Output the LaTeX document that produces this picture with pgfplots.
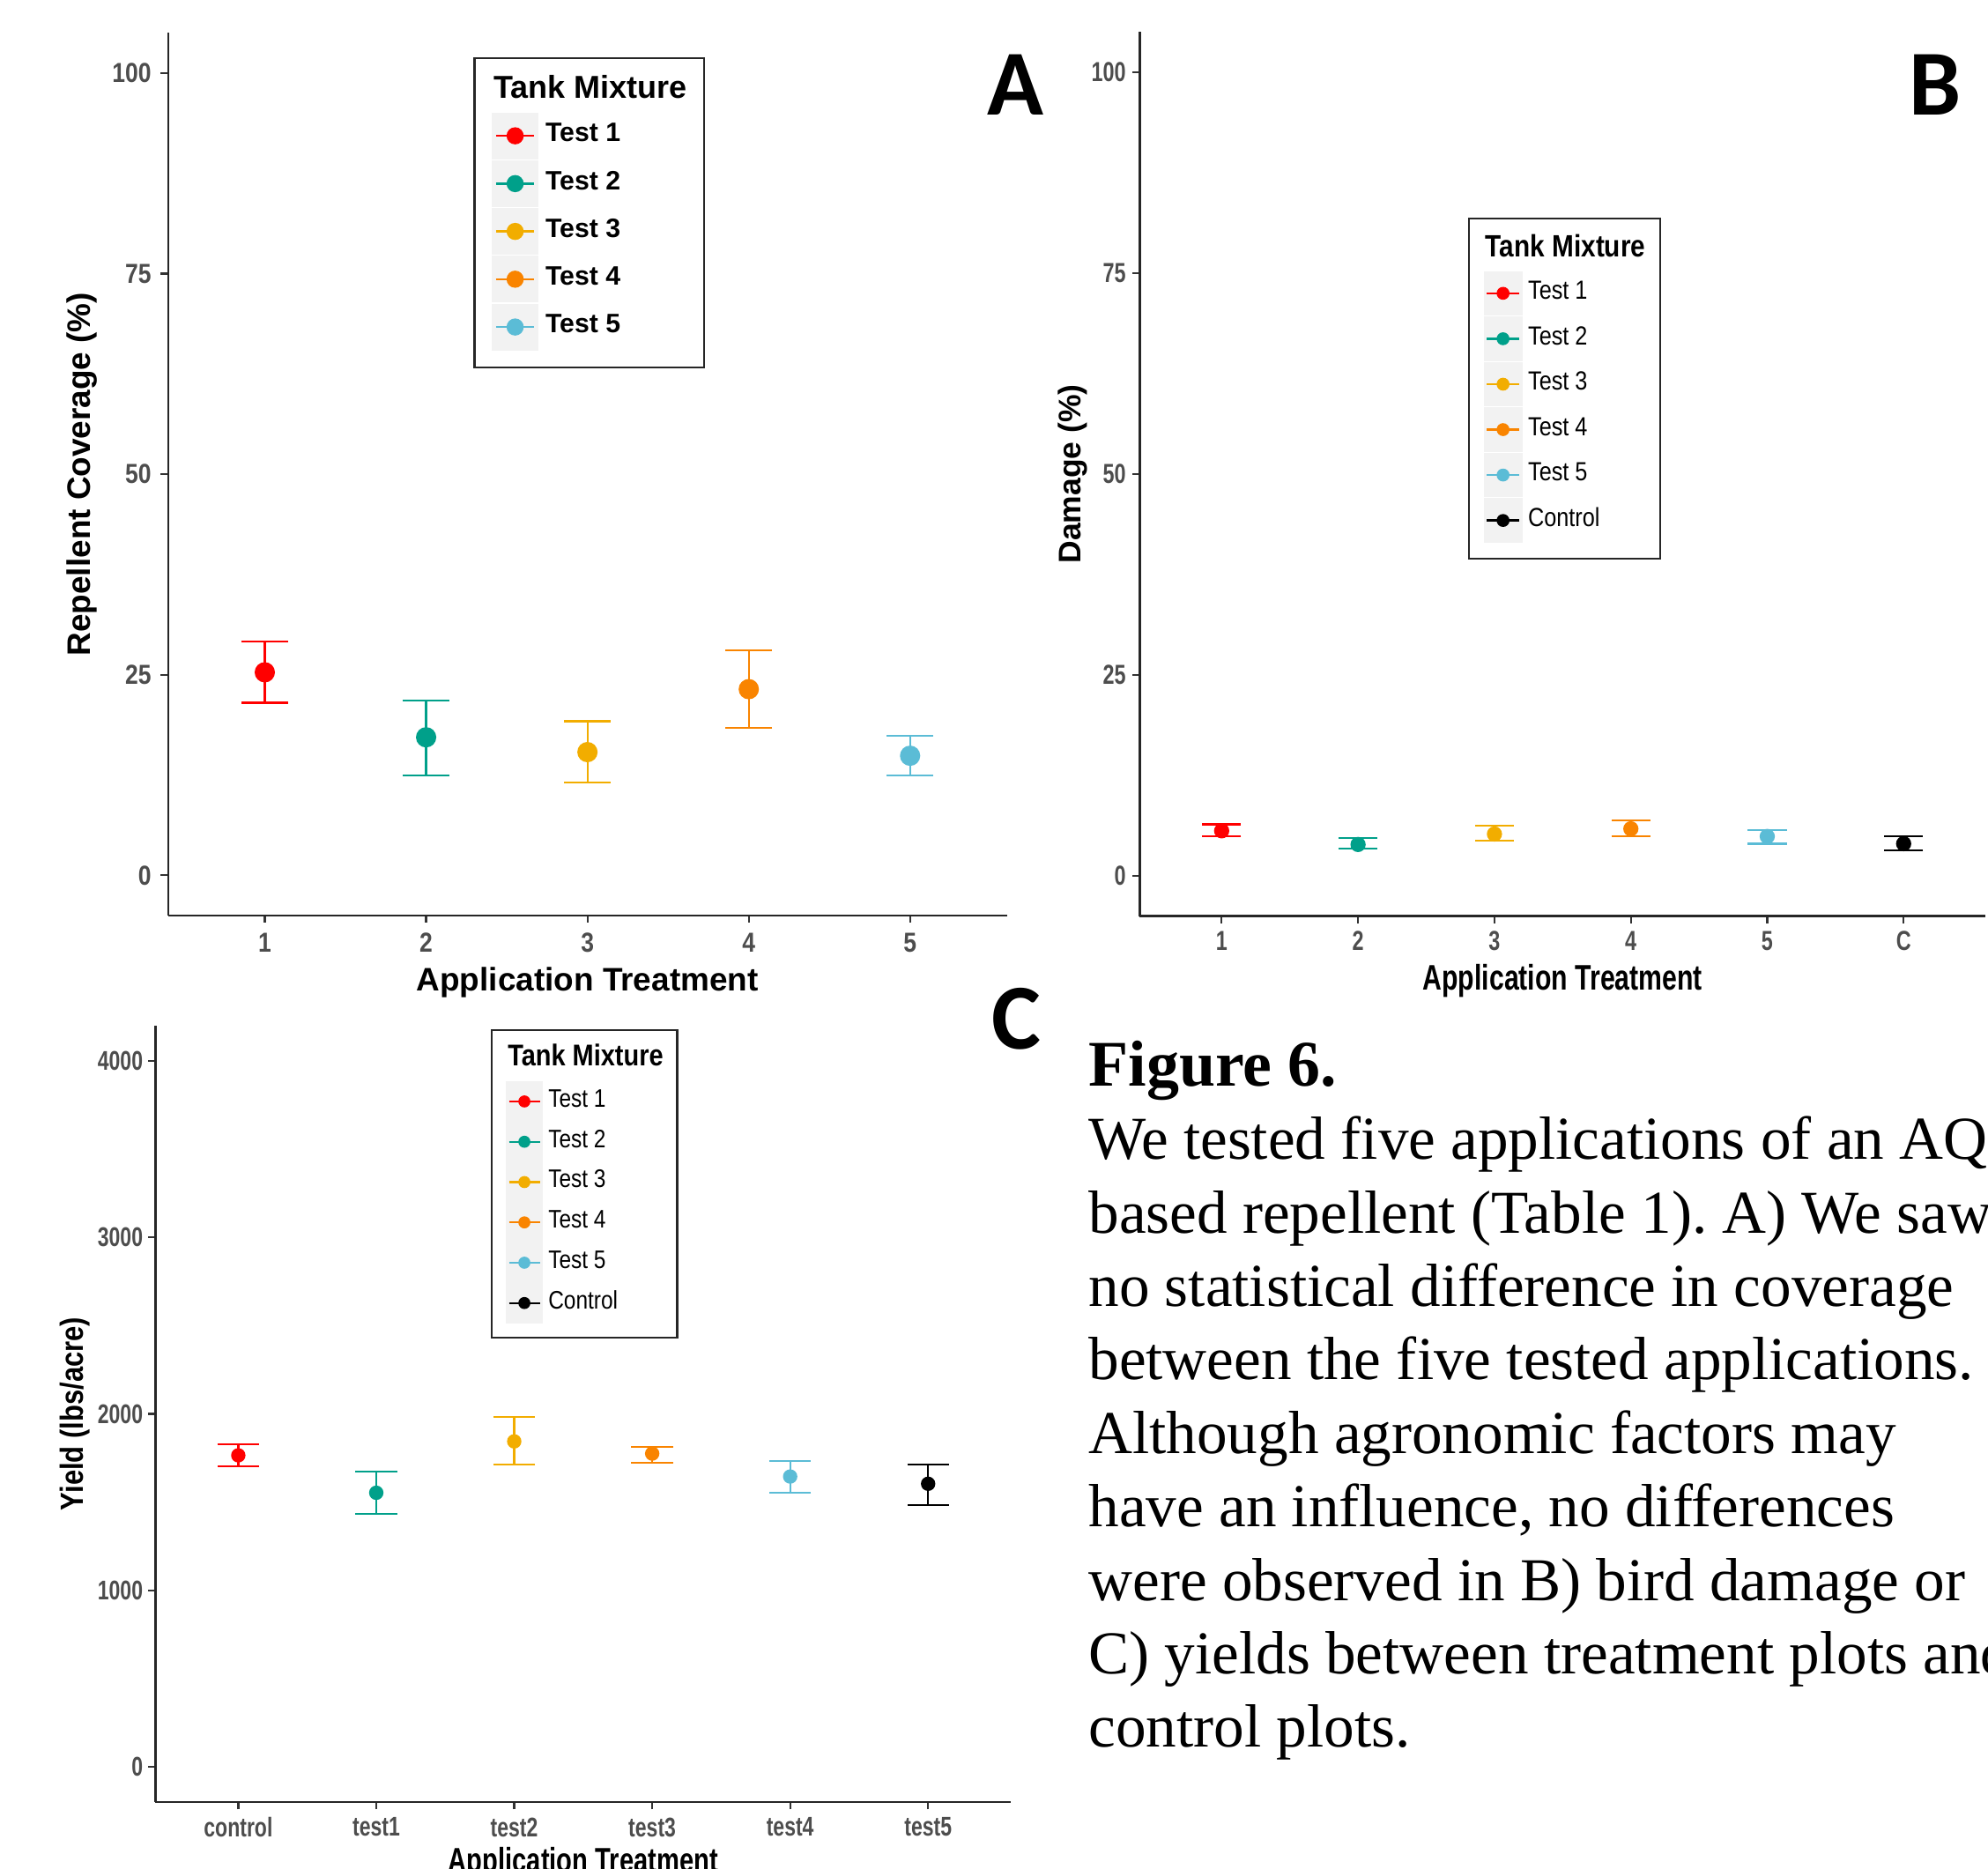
\documentclass[border=0pt]{standalone}
\usepackage{fontspec}
\setmainfont{Liberation Sans}
\newfontfamily\nar[FakeStretch=0.85]{Liberation Sans}
\newfontfamily\narr[FakeStretch=0.75]{Liberation Sans}
\newfontfamily\capfont{Liberation Serif}
\newfontfamily\letterfont{Carlito}
\usepackage{pgfplots}
\pgfplotsset{compat=1.18}
\frenchspacing

\definecolor{tred}{HTML}{FF0000}
\definecolor{tteal}{HTML}{00A08A}
\definecolor{tyel}{HTML}{F2AD00}
\definecolor{torg}{HTML}{F98400}
\definecolor{tblue}{HTML}{5BBCD6}
\definecolor{keybg}{HTML}{F2F2F2}
\definecolor{tickgrey}{HTML}{4D4D4D}

\pgfplotsset{
  ggpanel/.style={
    scale only axis, anchor=south west,
    axis lines=left, axis line style={-, black!85, line width=0.45pt},
    tick align=outside, major tick length=1.7pt,
    tick style={black!80, line width=0.45pt},
    every tick label/.append style={text=tickgrey, inner sep=0pt},
    /pgf/number format/assume math mode=true,
    /pgf/number format/1000 sep={},
    error bars/y dir=both, error bars/y explicit,
    error bars/error mark=-,
    error bars/error bar style={line width=0.45pt},
    legend cell align=left,
    ylabel style={anchor=center},
    xlabel style={anchor=base},
  },
}

\begin{document}
\begin{tikzpicture}
\begin{scope}
\clip (0pt,0pt) rectangle (470.4pt,442.2pt);

% ---------- A: repellent coverage ----------
\begin{axis}[ggpanel,
  at={(39.75pt,225.6pt)}, width=198.5pt, height=208.8pt,
  xmin=0.4, xmax=5.6, ymin=-5, ymax=105,
  xtick={1,2,3,4,5}, ytick={0,25,50,75,100},
  tick label style={font=\nar\bfseries\fontsize{6.5}{7}\selectfont},
  yticklabel style={anchor=east, xshift=-2.05pt},
  xticklabel style={anchor=north, yshift=-2.3pt},
  xlabel={Application Treatment}, ylabel={Repellent Coverage (\%)},
  label style={font=\bfseries\fontsize{7.7}{8}\selectfont},
  xlabel style={at={(axis description cs:0.5,-0.0852)}},
  ylabel style={at={(axis description cs:-0.102,0.5)}},
  error bars/error mark options={rotate=90, line width=0.45pt, mark size=5.5pt},
  legend style={at={(0.3642,0.9724)}, anchor=north west, draw=black!85, line width=0.45pt,
    inner xsep=4.1pt, inner ysep=4.0pt, row sep=0.26pt, column sep=1.65pt,
    nodes={inner sep=0pt},
    font=\bfseries\fontsize{6.3}{7}\selectfont},
  legend image code/.code={
    \fill[keybg] (0pt,-5.3pt) rectangle (10.6pt,5.3pt);
    \draw[#1, line width=0.5pt] (0.75pt,0pt) -- (9.85pt,0pt);
    \fill[#1] (5.3pt,0pt) circle (1.8pt);},
]
\addlegendimage{legend image code/.code={\path[draw=none, fill=none] (0pt,0pt) -- (0pt,-5.1pt);}}
\addlegendentry{\hspace{-12.25pt}\fontsize{7.5}{8}\selectfont\textbf{Tank Mixture}}
\addplot[tred, only marks, mark=*, mark size=2.2pt] coordinates {(1,25.3) += (0,3.8) -= (0,3.8)};
\addlegendentry{Test 1}
\addplot[tteal, only marks, mark=*, mark size=2.2pt] coordinates {(2,17.2) += (0,4.6) -= (0,4.8)};
\addlegendentry{Test 2}
\addplot[tyel, only marks, mark=*, mark size=2.2pt] coordinates {(3,15.35) += (0,3.85) -= (0,3.75)};
\addlegendentry{Test 3}
\addplot[torg, only marks, mark=*, mark size=2.2pt] coordinates {(4,23.2) += (0,4.85) -= (0,4.8)};
\addlegendentry{Test 4}
\addplot[tblue, only marks, mark=*, mark size=2.2pt] coordinates {(5,14.9) += (0,2.5) -= (0,2.5)};
\addlegendentry{Test 5}
\end{axis}

% ---------- B: damage ----------
\begin{axis}[ggpanel,
  at={(269.7pt,225.45pt)}, width=200.1pt, height=209.2pt,
  xmin=0.4, xmax=6.6, ymin=-5, ymax=105,
  xtick={1,2,3,4,5,6}, xticklabels={1,2,3,4,5,C}, ytick={0,25,50,75,100},
  tick label style={font=\narr\bfseries\fontsize{6.5}{7}\selectfont},
  yticklabel style={anchor=east, xshift=-1.4pt},
  xticklabel style={anchor=north, yshift=-1.75pt},
  xlabel={Application Treatment}, ylabel={Damage (\%)},
  xlabel style={font=\narr\bfseries\fontsize{8.4}{9}\selectfont, at={(axis description cs:0.5,-0.0836)}},
  ylabel style={font=\bfseries\fontsize{7.4}{8}\selectfont, at={(axis description cs:-0.0795,0.5)}},
  error bars/error mark options={rotate=90, line width=0.45pt, mark size=4.6pt},
  legend style={at={(0.3883,0.790)}, anchor=north west, draw=black!85, line width=0.45pt,
    inner xsep=3.45pt, inner ysep=3.75pt, row sep=0.2pt, column sep=1.35pt,
    nodes={inner sep=0pt},
    font=\nar\fontsize{6.2}{7}\selectfont},
  legend image code/.code={
    \fill[keybg] (0pt,-5.05pt) rectangle (8.7pt,5.05pt);
    \draw[#1, line width=0.5pt] (0.5pt,0pt) -- (8.2pt,0pt);
    \fill[#1] (4.35pt,0pt) circle (1.3pt);},
]
\addlegendimage{legend image code/.code={\path[draw=none, fill=none] (0pt,0pt) -- (0pt,-5.08pt);}}
\addlegendentry{\hspace{-10.05pt}\nar\bfseries\fontsize{7.3}{8}\selectfont Tank Mixture}
\addplot[tred, only marks, mark=*, mark size=1.6pt] coordinates {(1,5.6) += (0,0.8) -= (0,0.7)};
\addlegendentry{Test 1}
\addplot[tteal, only marks, mark=*, mark size=1.6pt] coordinates {(2,3.9) += (0,0.8) -= (0,0.5)};
\addlegendentry{Test 2}
\addplot[tyel, only marks, mark=*, mark size=1.6pt] coordinates {(3,5.2) += (0,1.0) -= (0,0.8)};
\addlegendentry{Test 3}
\addplot[torg, only marks, mark=*, mark size=1.6pt] coordinates {(4,5.85) += (0,1.05) -= (0,0.95)};
\addlegendentry{Test 4}
\addplot[tblue, only marks, mark=*, mark size=1.6pt] coordinates {(5,4.9) += (0,0.8) -= (0,0.9)};
\addlegendentry{Test 5}
\addplot[black, only marks, mark=*, mark size=1.6pt] coordinates {(6,4.0) += (0,0.9) -= (0,0.8)};
\addlegendentry{Control}
\end{axis}

% ---------- C: yield ----------
\begin{axis}[ggpanel,
  at={(36.8pt,15.75pt)}, width=202.4pt, height=183.8pt,
  xmin=0.4, xmax=6.6, ymin=-200, ymax=4200,
  xtick={1,2,3,4,5,6}, xticklabels={control,test1,test2,test3,test4,test5},
  ytick={0,1000,2000,3000,4000},
  tick label style={font=\narr\bfseries\fontsize{6.4}{7}\selectfont},
  yticklabel style={anchor=east, xshift=-1.1pt},
  xticklabel style={anchor=north, yshift=-1.75pt},
  xlabel={Application Treatment}, ylabel={Yield (lbs/acre)},
  xlabel style={font=\narr\bfseries\fontsize{8.1}{9}\selectfont, at={(axis description cs:0.5,-0.0898)}},
  ylabel style={font=\nar\bfseries\fontsize{7.6}{8}\selectfont, at={(axis description cs:-0.094,0.5)}},
  error bars/error mark options={rotate=90, line width=0.45pt, mark size=4.95pt},
  legend style={at={(0.3922,0.9953)}, anchor=north west, draw=black!85, line width=0.45pt,
    inner xsep=3.3pt, inner ysep=3.35pt, row sep=-0.11pt, column sep=1.3pt,
    nodes={inner sep=0pt},
    font=\nar\fontsize{6}{7}\selectfont},
  legend image code/.code={
    \fill[keybg] (0pt,-4.6pt) rectangle (8.3pt,4.6pt);
    \draw[#1, line width=0.5pt] (0.5pt,0pt) -- (7.8pt,0pt);
    \fill[#1] (4.15pt,0pt) circle (1.2pt);},
]
\addlegendimage{legend image code/.code={\path[draw=none, fill=none] (0pt,0pt) -- (0pt,-5.5pt);}}
\addlegendentry{\hspace{-9.6pt}\nar\bfseries\fontsize{7.1}{8}\selectfont Tank Mixture}
\addplot[tred, only marks, mark=*, mark size=1.5pt] coordinates {(1,1765) += (0,63) -= (0,60)};
\addlegendentry{Test 1}
\addplot[tteal, only marks, mark=*, mark size=1.5pt] coordinates {(2,1553) += (0,120) -= (0,120)};
\addlegendentry{Test 2}
\addplot[tyel, only marks, mark=*, mark size=1.5pt] coordinates {(3,1844) += (0,139) -= (0,129)};
\addlegendentry{Test 3}
\addplot[torg, only marks, mark=*, mark size=1.5pt] coordinates {(4,1775) += (0,37) -= (0,51)};
\addlegendentry{Test 4}
\addplot[tblue, only marks, mark=*, mark size=1.5pt] coordinates {(5,1645) += (0,88) -= (0,92)};
\addlegendentry{Test 5}
\addplot[black, only marks, mark=*, mark size=1.5pt] coordinates {(6,1604) += (0,111) -= (0,120)};
\addlegendentry{Control}
\end{axis}

% ---------- panel letters ----------
\begin{scope}[every node/.style={anchor=base, inner sep=0pt, font=\letterfont\bfseries\fontsize{22}{22}\selectfont}]
\node at (240.4pt,414.9pt) {A};
\node at (457.8pt,414.9pt) {B};
\node at (240.4pt,194.0pt) {C};
\end{scope}

% ---------- caption ----------
\node[anchor=base west, inner sep=0pt, font=\capfont\bfseries\fontsize{15.4}{18}\selectfont] at (257.4pt,185.2pt) {Figure 6.};
\begin{scope}[every node/.style={anchor=base west, inner sep=0pt, font=\capfont\fontsize{14.42}{17.39}\selectfont}]
\node at (257.4pt,167.85pt) {We tested five applications of an AQ};
\node at (257.4pt,150.46pt) {based repellent (Table 1). A) We saw};
\node at (257.4pt,133.07pt) {no statistical difference in coverage};
\node at (257.4pt,115.68pt) {between the five tested applications.};
\node at (257.4pt,98.29pt) {Although agronomic factors may};
\node at (257.4pt,80.90pt) {have an influence, no differences};
\node at (257.4pt,63.51pt) {were observed in B) bird damage or};
\node at (257.4pt,46.12pt) {C) yields between treatment plots and};
\node at (257.4pt,28.73pt) {control plots.};
\end{scope}
\end{scope}
\pgfresetboundingbox
\useasboundingbox (0pt,0pt) rectangle (470.4pt,442.2pt);
\end{tikzpicture}
\end{document}
